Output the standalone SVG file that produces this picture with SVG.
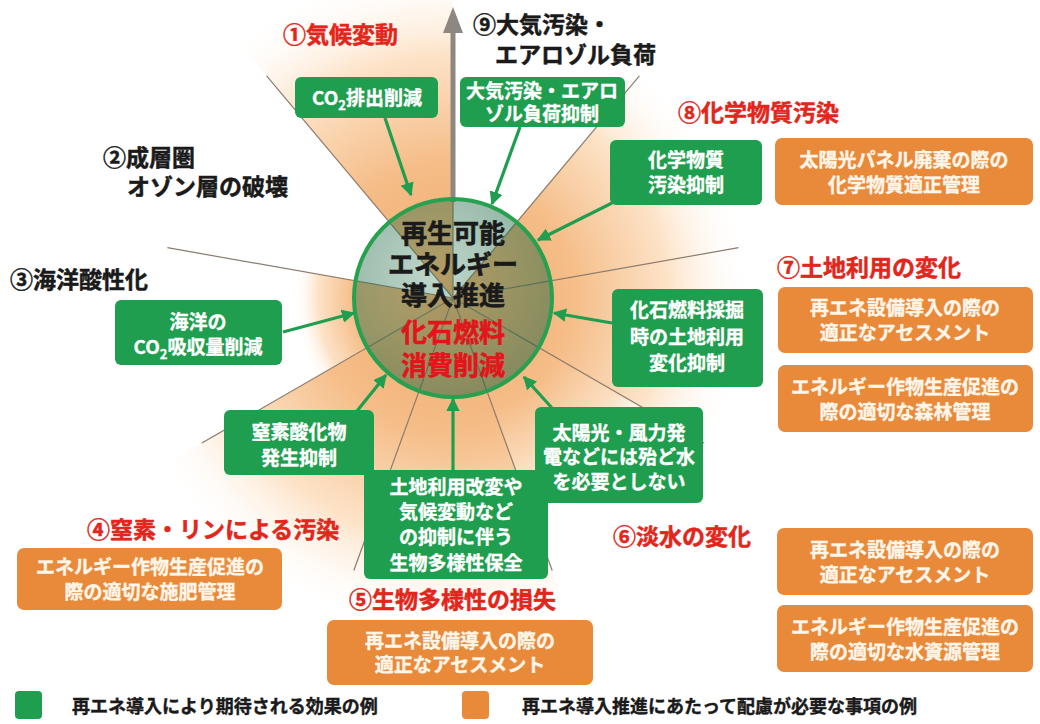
<svg xmlns="http://www.w3.org/2000/svg" width="1040" height="724" viewBox="0 0 1040 724">
  <defs>
    <style>
      text { font-family: "Noto Sans CJK JP", "Noto Sans CJK SC", sans-serif; font-weight: 700; }
      .lbl { font-size: 23px; stroke-width: 0.5; }
      .red { fill: #e1261c; stroke: #e1261c; }
      .blk { fill: #1a1a1a; stroke: #1a1a1a; }
      .gbox { fill: #1f9e4f; }
      .obox { fill: #e98a3b; }
      .gt { fill: #ffffff; font-size: 19px; text-anchor: middle; stroke: #ffffff; stroke-width: 0.35; }
      .ot { fill: #fff6ea; font-size: 19px; text-anchor: middle; stroke: #fff6ea; stroke-width: 0.35; }
      .sec { stroke: #8c7c6c; stroke-width: 1.2; fill: none; }
      .conn { stroke: #1f9e4f; stroke-width: 3.2; fill: none; marker-end: url(#ah); }
      .ctr { font-size: 26px; text-anchor: middle; stroke-width: 0.6; }
      .ctr-red { fill: #e0161b; stroke: #e0161b; }
      .leg { font-size: 18px; fill: #1a1a1a; stroke: #1a1a1a; stroke-width: 0.4; }
    </style>
    <radialGradient id="wLong" gradientUnits="userSpaceOnUse" cx="453" cy="298" r="340">
      <stop offset="0" stop-color="#f0a86a"/>
      <stop offset="0.4" stop-color="#f5bd88"/>
      <stop offset="0.72" stop-color="#fde3c8"/>
      <stop offset="1" stop-color="#ffffff" stop-opacity="0"/>
    </radialGradient>
    <radialGradient id="wMid" gradientUnits="userSpaceOnUse" cx="453" cy="298" r="300">
      <stop offset="0" stop-color="#f0a86a"/>
      <stop offset="0.4" stop-color="#f5bd88"/>
      <stop offset="0.72" stop-color="#fde3c8"/>
      <stop offset="1" stop-color="#ffffff" stop-opacity="0"/>
    </radialGradient>
    <radialGradient id="wShort" gradientUnits="userSpaceOnUse" cx="453" cy="298" r="240">
      <stop offset="0" stop-color="#f0a86a"/>
      <stop offset="0.5" stop-color="#f5bd88"/>
      <stop offset="0.8" stop-color="#fde3c8"/>
      <stop offset="1" stop-color="#ffffff" stop-opacity="0"/>
    </radialGradient>
    <radialGradient id="wTiny" gradientUnits="userSpaceOnUse" cx="453" cy="298" r="160">
      <stop offset="0" stop-color="#f0a86a"/>
      <stop offset="0.62" stop-color="#f5bd88"/>
      <stop offset="0.85" stop-color="#fde3c8"/>
      <stop offset="1" stop-color="#ffffff" stop-opacity="0"/>
    </radialGradient>
    <radialGradient id="globeShade" cx="0.42" cy="0.4" r="0.65">
      <stop offset="0" stop-color="#2a7a52" stop-opacity="0.3"/>
      <stop offset="1" stop-color="#145a38" stop-opacity="0.5"/>
    </radialGradient>
    <marker id="ah" viewBox="0 0 10 10" refX="9" refY="5" markerWidth="4.2" markerHeight="4.2" orient="auto">
      <path d="M0,0 L10,5 L0,10 Z" fill="#1f9e4f"/>
    </marker>
  </defs>

  <rect width="1040" height="724" fill="#ffffff"/>

  <!-- boundary wedges, clockwise from the top -->
  <g id="wedges">
    <path d="M453,298 L221.6,22.2 A360,360 0 0 1 453,-62 Z" fill="url(#wLong)"/>
    <path d="M453,298 L684.4,22.2 A360,360 0 0 1 807.5,235.5 Z" fill="url(#wMid)"/>
    <path d="M453,298 L807.5,235.5 A360,360 0 0 1 764.8,478 Z" fill="url(#wMid)"/>
    <path d="M453,298 L764.8,478 A360,360 0 0 1 576.1,636.3 Z" fill="url(#wShort)"/>
    <path d="M453,298 L576.1,636.3 A360,360 0 0 1 329.9,636.3 Z" fill="url(#wLong)"/>
    <path d="M453,298 L329.9,636.3 A360,360 0 0 1 141.2,478 Z" fill="url(#wLong)"/>
    <path d="M453,298 L141.2,478 A360,360 0 0 1 98.5,235.5 Z" fill="url(#wTiny)"/>
  </g>

  <!-- sector dividers -->
  <g id="dividers" class="sec">
    <line x1="453" y1="298" x2="639.4" y2="75.9"/>
    <line x1="453" y1="298" x2="738.6" y2="247.7"/>
    <line x1="453" y1="298" x2="704.1" y2="443"/>
    <line x1="453" y1="298" x2="552.2" y2="570.5"/>
    <line x1="453" y1="298" x2="353.8" y2="570.5"/>
    <line x1="453" y1="298" x2="201.9" y2="443"/>
    <line x1="453" y1="298" x2="167.4" y2="247.7"/>
    <line x1="453" y1="298" x2="266.6" y2="75.9"/>
    <line x1="453" y1="298" x2="453" y2="200"/>
  </g>

  <!-- upward axis arrow -->
  <g id="axis">
    <rect x="450.5" y="30" width="5" height="172" fill="#8d8782"/>
    <polygon points="443,33 463,33 453,7" fill="#8d8782"/>
  </g>

  <!-- globe -->
  <g id="globe">
    <circle cx="453" cy="298" r="99" fill="url(#globeShade)" stroke="#27a14f" stroke-width="4"/>
  </g>

  <!-- connectors -->
  <g id="connectors">
    <line class="conn" x1="385" y1="118" x2="411" y2="195"/>
    <line class="conn" x1="520" y1="127" x2="492" y2="204"/>
    <line class="conn" x1="612" y1="203" x2="538" y2="240"/>
    <line class="conn" x1="612" y1="323" x2="554" y2="313"/>
    <line class="conn" x1="552" y1="408" x2="524" y2="377"/>
    <line class="conn" x1="453" y1="471" x2="453" y2="399"/>
    <line class="conn" x1="357" y1="411" x2="386" y2="375"/>
    <line class="conn" x1="283" y1="332" x2="354" y2="313"/>
  </g>

  <!-- benefit nodes -->
  <g id="n-co2">
    <rect class="gbox" x="295" y="77" width="143" height="41" rx="6"/>
    <text class="gt" x="367" y="105">CO<tspan font-size="13" dy="5">2</tspan><tspan dy="-5">排出削減</tspan></text>
  </g>
  <g id="n-aerosol">
    <rect class="gbox" x="460" y="77" width="165" height="50" rx="6"/>
    <text class="gt" x="542" y="98" font-size="18">大気汚染・エアロ</text>
    <text class="gt" x="542" y="121" font-size="18">ゾル負荷抑制</text>
  </g>
  <g id="n-chem">
    <rect class="gbox" x="610" y="140" width="152" height="65" rx="6"/>
    <text class="gt" x="686" y="167">化学物質</text>
    <text class="gt" x="686" y="192">汚染抑制</text>
  </g>
  <g id="n-ocean">
    <rect class="gbox" x="115" y="300" width="167" height="65" rx="6"/>
    <text class="gt" x="198" y="329">海洋の</text>
    <text class="gt" x="198" y="354">CO<tspan font-size="13" dy="5">2</tspan><tspan dy="-5">吸収量削減</tspan></text>
  </g>
  <g id="n-land">
    <rect class="gbox" x="612" y="289" width="151" height="98" rx="6"/>
    <text class="gt" x="687" y="317" font-size="20">化石燃料採掘</text>
    <text class="gt" x="687" y="344" font-size="20">時の土地利用</text>
    <text class="gt" x="687" y="370" font-size="20">変化抑制</text>
  </g>
  <g id="n-nox">
    <rect class="gbox" x="224" y="410" width="150" height="65" rx="6"/>
    <text class="gt" x="299" y="439" font-size="20">窒素酸化物</text>
    <text class="gt" x="299" y="465" font-size="20">発生抑制</text>
  </g>
  <g id="n-bio">
    <rect class="gbox" x="364" y="470" width="184" height="109" rx="6"/>
    <text class="gt" x="456" y="494">土地利用改変や</text>
    <text class="gt" x="456" y="519">気候変動など</text>
    <text class="gt" x="456" y="544">の抑制に伴う</text>
    <text class="gt" x="456" y="570">生物多様性保全</text>
  </g>
  <g id="n-water">
    <rect class="gbox" x="535" y="407" width="168" height="96" rx="6"/>
    <text class="gt" x="619" y="440" font-size="18.5">太陽光・風力発</text>
    <text class="gt" x="619" y="464" font-size="18.5">電などには殆ど水</text>
    <text class="gt" x="619" y="489" font-size="18.5">を必要としない</text>
  </g>

  <!-- caution nodes -->
  <g id="c-chem">
    <rect class="obox" x="775" y="138" width="258" height="67" rx="7"/>
    <text class="ot" x="904" y="167">太陽光パネル廃棄の際の</text>
    <text class="ot" x="904" y="192">化学物質適正管理</text>
  </g>
  <g id="c-land1">
    <rect class="obox" x="778" y="287" width="255" height="66" rx="7"/>
    <text class="ot" x="905" y="315">再エネ設備導入の際の</text>
    <text class="ot" x="905" y="340">適正なアセスメント</text>
  </g>
  <g id="c-land2">
    <rect class="obox" x="778" y="365" width="255" height="67" rx="7"/>
    <text class="ot" x="905" y="394">エネルギー作物生産促進の</text>
    <text class="ot" x="905" y="419">際の適切な森林管理</text>
  </g>
  <g id="c-water1">
    <rect class="obox" x="777" y="528" width="256" height="67" rx="7"/>
    <text class="ot" x="905" y="557">再エネ設備導入の際の</text>
    <text class="ot" x="905" y="582">適正なアセスメント</text>
  </g>
  <g id="c-water2">
    <rect class="obox" x="777" y="605" width="256" height="67" rx="7"/>
    <text class="ot" x="905" y="634">エネルギー作物生産促進の</text>
    <text class="ot" x="905" y="659">際の適切な水資源管理</text>
  </g>
  <g id="c-np">
    <rect class="obox" x="17" y="548" width="265" height="62" rx="7"/>
    <text class="ot" x="150" y="574">エネルギー作物生産促進の</text>
    <text class="ot" x="150" y="599">際の適切な施肥管理</text>
  </g>
  <g id="c-bio">
    <rect class="obox" x="327" y="620" width="266" height="65" rx="7"/>
    <text class="ot" x="460" y="648">再エネ設備導入の際の</text>
    <text class="ot" x="460" y="672">適正なアセスメント</text>
  </g>

  <!-- boundary labels -->
  <g id="labels">
    <text class="lbl red" x="283" y="43">①気候変動</text>
    <text class="lbl blk" x="473" y="33" font-size="22">⑨大気汚染・</text>
    <text class="lbl blk" x="495" y="63" font-size="22">エアロゾル負荷</text>
    <text class="lbl red" x="678" y="121">⑧化学物質汚染</text>
    <text class="lbl blk" x="103" y="166" font-size="22">②成層圏</text>
    <text class="lbl blk" x="127" y="195" font-size="22">オゾン層の破壊</text>
    <text class="lbl blk" x="10" y="288">③海洋酸性化</text>
    <text class="lbl red" x="777" y="276">⑦土地利用の変化</text>
    <text class="lbl red" x="87" y="538" font-size="21.5">④窒素・リンによる汚染</text>
    <text class="lbl red" x="349" y="608">⑤生物多様性の損失</text>
    <text class="lbl red" x="613" y="545">⑥淡水の変化</text>
  </g>

  <!-- globe caption -->
  <g id="core">
    <text class="ctr blk" x="453" y="243">再生可能</text>
    <text class="ctr blk" x="453" y="274">エネルギー</text>
    <text class="ctr blk" x="453" y="305">導入推進</text>
    <text class="ctr ctr-red" x="453" y="342">化石燃料</text>
    <text class="ctr ctr-red" x="453" y="375">消費削減</text>
  </g>

  <!-- legend -->
  <g id="legend">
    <rect x="15" y="691" width="27" height="28" rx="4" fill="#1f9e4f"/>
    <text class="leg" x="72" y="713">再エネ導入により期待される効果の例</text>
    <rect x="462" y="691" width="27" height="28" rx="4" fill="#e98a3b"/>
    <text class="leg" x="522" y="713">再エネ導入推進にあたって配慮が必要な事項の例</text>
  </g>
</svg>
